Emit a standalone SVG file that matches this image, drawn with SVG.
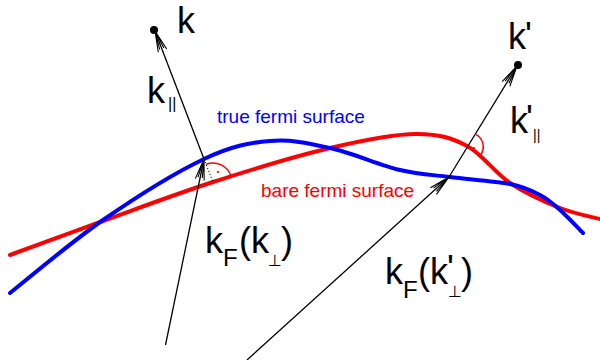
<svg xmlns="http://www.w3.org/2000/svg" width="600" height="360" viewBox="0 0 600 360">
<style>
.lbl{font-family:"Liberation Sans",Arial,sans-serif;fill:#000}
.vec{stroke:#000;stroke-width:1.3;fill:none}
.curve{fill:none;stroke-width:4;stroke-linecap:round}
.perp{font-family:"DejaVu Sans",sans-serif;font-size:16px}
</style>
<defs>
<marker id="arr" markerUnits="userSpaceOnUse" viewBox="-22 -6 24 12" refX="0" refY="0" markerWidth="24" markerHeight="12" orient="auto" overflow="visible">
<path d="M-21,-4.5 L0,0 L-21,4.5 M-19,-2.2 L0,0 L-19,2.2" fill="none" stroke="#000" stroke-width="1.1"/>
</marker>
</defs>
<rect width="600" height="360" fill="#fff"/>
<g id="bare-fermi-surface">
<path class="curve" stroke="#ff0000" d="M10,255 C25.5,249.3 69.2,233.2 103,221 C136.8,208.8 175.2,194.2 213,182 C250.8,169.8 296,156 330,148 C364,140 394.2,133.7 417,134 C439.8,134.3 451.5,137.8 467,146 C482.5,154.2 494.5,172.7 510,183 C525.5,193.3 545,202 560,208 C575,214 593.3,217.2 600,219"/>
<text class="lbl" x="261" y="197" font-size="19" style="fill:#ff0000">bare fermi surface</text>
</g>
<g id="true-fermi-surface">
<path class="curve" stroke="#0000ff" d="M10,293 C25.5,280.8 70.7,242.3 103,220 C135.3,197.7 176.2,172.2 204,159 C231.8,145.8 249,142.8 270,141 C291,139.2 308.3,143.2 330,148 C351.7,152.8 380,165.2 400,170 C420,174.8 431.7,174.7 450,177 C468.3,179.3 495,181 510,184 C525,187 531.7,190.7 540,195 C548.3,199.3 552.8,203.7 560,210 C567.2,216.3 579.2,229.2 583,233"/>
<text class="lbl" x="217" y="123" font-size="19" style="fill:#0000ff">true fermi surface</text>
</g>
<g id="connectors">
<line class="vec" x1="165.5" y1="345" x2="204" y2="159" marker-end="url(#arr)"/>
<line class="vec" x1="204" y1="159" x2="155" y2="31" marker-end="url(#arr)"/>
<line class="vec" x1="247" y1="360" x2="449" y2="177" marker-end="url(#arr)"/>
<line class="vec" x1="449" y1="177" x2="517" y2="66" marker-end="url(#arr)"/>
<line x1="204" y1="159" x2="213" y2="182" stroke="#000" stroke-width="1" stroke-dasharray="1.2,2"/>
<path d="M206.1,164.3 A19,19 0 0 1 231.1,176.2" fill="none" stroke="#ff0000" stroke-width="1.5"/>
<circle cx="218" cy="172" r="1.1" fill="#ff0000"/>
<path d="M475.3,134.1 A14,14 0 0 1 480.5,155" fill="none" stroke="#ff0000" stroke-width="1.5"/>
<circle cx="474" cy="148" r="1.1" fill="#ff0000"/>
</g>
<g id="k">
<circle cx="154" cy="30" r="4" fill="#000"/>
<text class="lbl" x="177" y="33" font-size="36">k</text>
</g>
<g id="k-prime">
<circle cx="518" cy="65" r="4" fill="#000"/>
<text class="lbl" font-size="36"><tspan x="508" y="49">k</tspan><tspan x="525" y="48">'</tspan></text>
</g>
<g id="k-par">
<text class="lbl" font-size="36"><tspan x="147" y="103">k</tspan><tspan x="168" y="109" font-size="16">||</tspan></text>
</g>
<g id="k-prime-par">
<text class="lbl" font-size="36"><tspan x="510" y="133">k</tspan><tspan x="526" y="131">'</tspan><tspan x="533" y="140" font-size="14">||</tspan></text>
</g>
<g id="kF-kperp">
<text class="lbl" font-size="36"><tspan x="205" y="253">k</tspan><tspan x="223" y="266" font-size="24">F</tspan><tspan x="239" y="253">(k</tspan><tspan class="perp" x="268" y="266">⊥</tspan><tspan x="281" y="253">)</tspan></text>
</g>
<g id="kF-kperp-prime">
<text class="lbl" font-size="36"><tspan x="385" y="284">k</tspan><tspan x="403" y="298" font-size="24">F</tspan><tspan x="418" y="284">(k</tspan><tspan x="447" y="281">'</tspan><tspan class="perp" x="448" y="297">⊥</tspan><tspan x="461" y="284">)</tspan></text>
</g>
</svg>
